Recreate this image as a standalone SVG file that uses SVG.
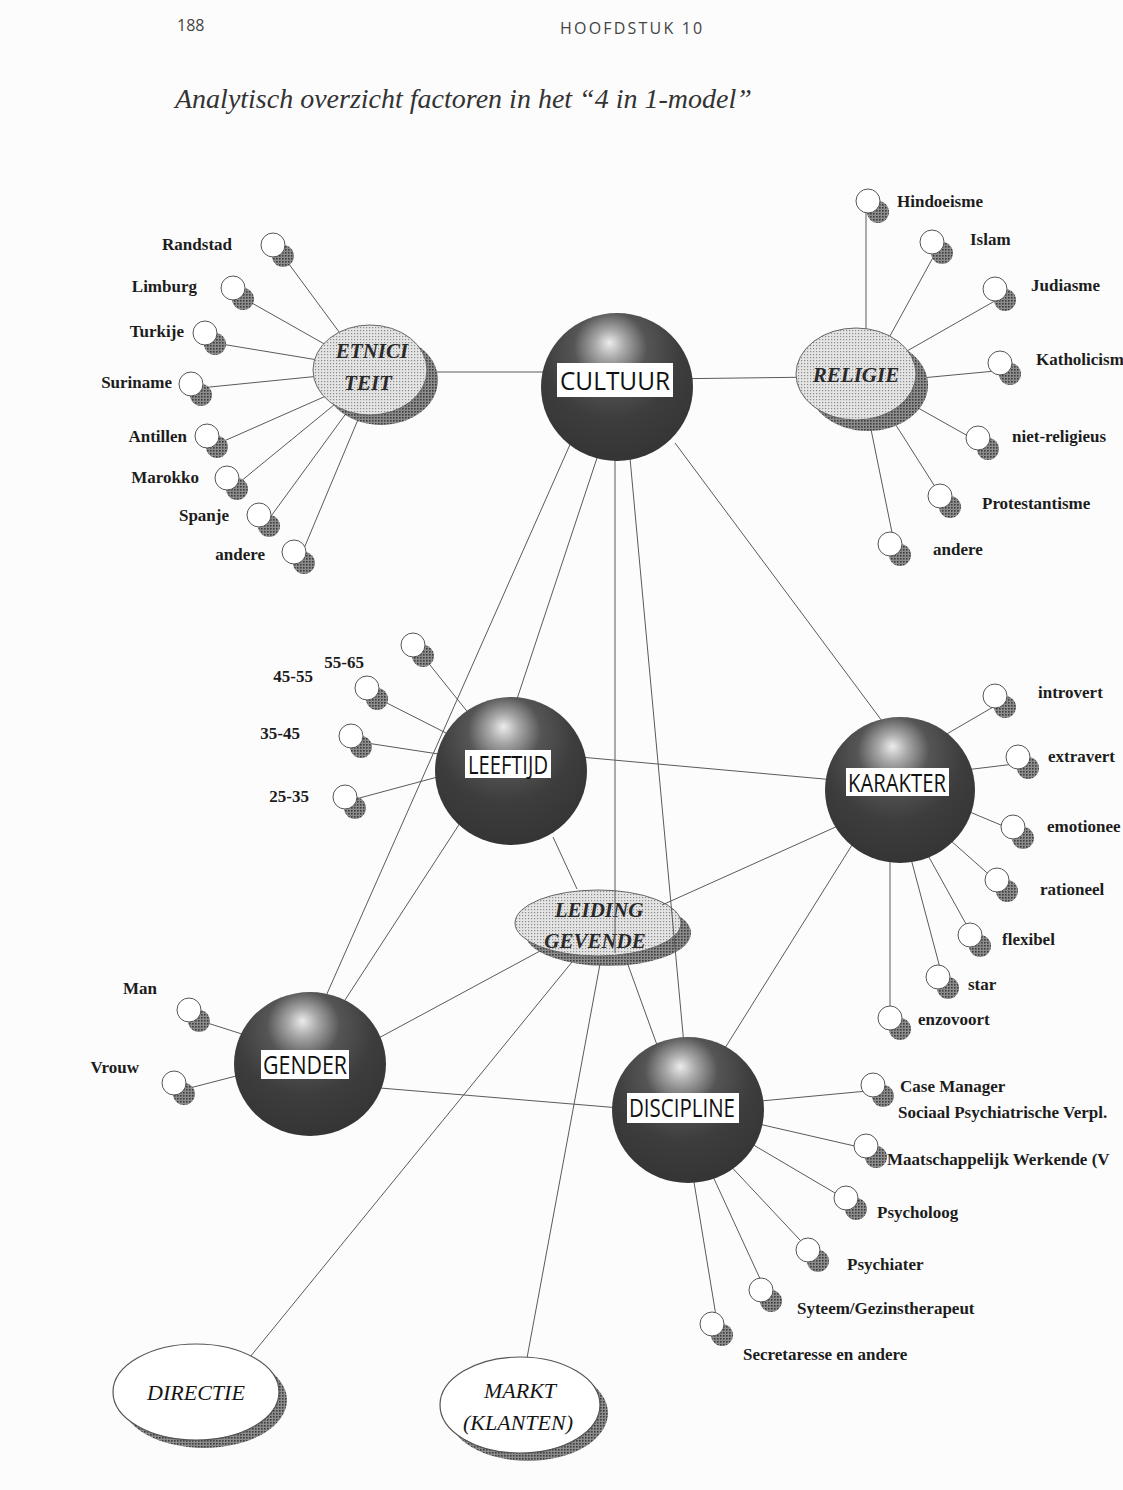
<svg xmlns="http://www.w3.org/2000/svg" width="1123" height="1490" viewBox="0 0 1123 1490">
<defs>
<radialGradient id="sph" cx="0.47" cy="0.3" r="0.75" fx="0.45" fy="0.2">
<stop offset="0" stop-color="#ececec"/>
<stop offset="0.13" stop-color="#a8a8a8"/>
<stop offset="0.32" stop-color="#555"/>
<stop offset="0.6" stop-color="#3d3d3d"/>
<stop offset="1" stop-color="#333"/>
</radialGradient>
<pattern id="dotL" width="3" height="3" patternUnits="userSpaceOnUse">
<rect width="3" height="3" fill="#e4e4e4"/>
<rect width="1.2" height="1.2" fill="#8a8a8a"/>
</pattern>
<pattern id="dotD" width="3" height="3" patternUnits="userSpaceOnUse">
<rect width="3" height="3" fill="#8c8c8c"/>
<rect width="1.6" height="1.6" fill="#3c3c3c"/>
</pattern>
</defs>
<style>
.ln{stroke:#5a5a5a;stroke-width:1;fill:none}
.sp{fill:url(#sph)}
.bx{fill:#fff}
.sl{font-family:"Open Sans","Liberation Sans",sans-serif;font-size:26px;fill:#111;text-anchor:middle}
.le{fill:url(#dotL);stroke:#666;stroke-width:1}
.lsh{fill:url(#dotD)}
.el{font-family:"Liberation Serif",serif;font-style:italic;font-weight:bold;font-size:21px;fill:#2a2a2a;text-anchor:middle}
.we{fill:#fff;stroke:#555;stroke-width:1.2}
.eo{font-family:"Liberation Serif",serif;font-style:italic;font-size:22px;fill:#151515;text-anchor:middle}
.ls{fill:url(#dotD)}
.lw{fill:#fff;stroke:#555;stroke-width:1}
.lf{font-family:"Liberation Serif",serif;font-weight:bold;font-size:17px;fill:#1c1c1c}
.e{text-anchor:end}
.hd{font-family:"Open Sans","Liberation Sans",sans-serif;font-size:16px;fill:#444}
.tt{font-family:"Liberation Serif",serif;font-style:italic;font-size:28px;fill:#333}
</style>
<rect width="1123" height="1490" fill="#fcfcfc"/>
<g id="header">
<text class="hd" x="177" y="31">188</text>
<text class="hd" x="560" y="34" letter-spacing="2.2">HOOFDSTUK 10</text>
<text class="tt" x="175" y="108">Analytisch overzicht factoren in het “4 in 1-model”</text>
</g>
<g id="leidinggevende">
<ellipse class="lsh" cx="608" cy="933" rx="83" ry="33"/>
<ellipse class="le" cx="598" cy="923" rx="83" ry="33"/>
<text class="el" x="599" y="917">LEIDING</text>
<text class="el" x="595" y="948">GEVENDE</text>
</g>
<g id="connectors">
<line class="ln" x1="283" y1="256" x2="345" y2="340"/>
<line class="ln" x1="243" y1="298" x2="335" y2="350"/>
<line class="ln" x1="215" y1="343" x2="330" y2="362"/>
<line class="ln" x1="200" y1="388" x2="330" y2="375"/>
<line class="ln" x1="215" y1="445" x2="335" y2="392"/>
<line class="ln" x1="235" y1="486" x2="340" y2="400"/>
<line class="ln" x1="266" y1="523" x2="350" y2="408"/>
<line class="ln" x1="300" y1="558" x2="362" y2="410"/>
<line class="ln" x1="420" y1="372" x2="570" y2="372"/>
<line class="ln" x1="660" y1="379" x2="820" y2="377"/>
<line class="ln" x1="866" y1="210" x2="866" y2="345"/>
<line class="ln" x1="936" y1="252" x2="885" y2="345"/>
<line class="ln" x1="1000" y1="298" x2="900" y2="355"/>
<line class="ln" x1="1006" y1="370" x2="900" y2="380"/>
<line class="ln" x1="984" y1="445" x2="895" y2="395"/>
<line class="ln" x1="946" y1="504" x2="880" y2="400"/>
<line class="ln" x1="896" y1="552" x2="865" y2="400"/>
<line class="ln" x1="572" y1="440" x2="322" y2="1005"/>
<line class="ln" x1="598" y1="455" x2="515" y2="705"/>
<line class="ln" x1="615" y1="458" x2="615" y2="953"/>
<line class="ln" x1="630" y1="458" x2="684" y2="1045"/>
<line class="ln" x1="675" y1="443" x2="885" y2="725"/>
<line class="ln" x1="580" y1="757" x2="835" y2="780"/>
<line class="ln" x1="553" y1="837" x2="577" y2="889"/>
<line class="ln" x1="462" y1="820" x2="345" y2="1000"/>
<line class="ln" x1="840" y1="825" x2="662" y2="905"/>
<line class="ln" x1="852" y1="845" x2="725" y2="1048"/>
<line class="ln" x1="375" y1="1040" x2="540" y2="951"/>
<line class="ln" x1="380" y1="1088" x2="620" y2="1108"/>
<line class="ln" x1="572" y1="962" x2="250" y2="1357"/>
<line class="ln" x1="600" y1="964" x2="527" y2="1358"/>
<line class="ln" x1="627" y1="962" x2="657" y2="1045"/>
<line class="ln" x1="198" y1="1020" x2="245" y2="1035"/>
<line class="ln" x1="182" y1="1090" x2="240" y2="1075"/>
<line class="ln" x1="422" y1="655" x2="470" y2="715"/>
<line class="ln" x1="375" y1="697" x2="450" y2="735"/>
<line class="ln" x1="360" y1="742" x2="445" y2="755"/>
<line class="ln" x1="352" y1="800" x2="445" y2="775"/>
<line class="ln" x1="1000" y1="703" x2="945" y2="735"/>
<line class="ln" x1="1023" y1="763" x2="965" y2="770"/>
<line class="ln" x1="1020" y1="833" x2="965" y2="810"/>
<line class="ln" x1="1003" y1="887" x2="950" y2="840"/>
<line class="ln" x1="976" y1="942" x2="925" y2="850"/>
<line class="ln" x1="944" y1="983" x2="910" y2="855"/>
<line class="ln" x1="890" y1="1015" x2="890" y2="855"/>
<line class="ln" x1="878" y1="1090" x2="750" y2="1102"/>
<line class="ln" x1="872" y1="1150" x2="750" y2="1122"/>
<line class="ln" x1="852" y1="1203" x2="745" y2="1140"/>
<line class="ln" x1="814" y1="1255" x2="725" y2="1160"/>
<line class="ln" x1="768" y1="1296" x2="710" y2="1170"/>
<line class="ln" x1="718" y1="1328" x2="692" y2="1170"/>
</g>
<g id="etniciteit">
<ellipse class="lsh" cx="381" cy="380" rx="57" ry="45"/>
<ellipse class="le" cx="370" cy="370" rx="57" ry="45"/>
<text class="el" x="372" y="358">ETNICI</text>
<text class="el" x="368" y="390">TEIT</text>
</g>
<g id="religie">
<ellipse class="lsh" cx="868" cy="385" rx="60" ry="46"/>
<ellipse class="le" cx="856" cy="374" rx="60" ry="46"/>
<text class="el" x="856" y="382" font-size="22">RELIGIE</text>
</g>
<g id="cultuur">
<ellipse class="sp" cx="617" cy="387" rx="76" ry="74"/>
<rect class="bx" x="557" y="363" width="116" height="34"/>
<text class="sl" x="615" y="390" font-size="28" textLength="110" lengthAdjust="spacingAndGlyphs">CULTUUR</text>
</g>
<g id="leeftijd">
<ellipse class="sp" cx="511" cy="771" rx="76" ry="74"/>
<rect class="bx" x="465" y="750" width="86" height="28"/>
<text class="sl" x="508" y="774" font-size="24" textLength="80" lengthAdjust="spacingAndGlyphs">LEEFTIJD</text>
</g>
<g id="karakter">
<ellipse class="sp" cx="900" cy="790" rx="75" ry="73"/>
<rect class="bx" x="846" y="768" width="103" height="28"/>
<text class="sl" x="897" y="792" font-size="24" textLength="98" lengthAdjust="spacingAndGlyphs">KARAKTER</text>
</g>
<g id="gender">
<ellipse class="sp" cx="310" cy="1064" rx="76" ry="72"/>
<rect class="bx" x="261" y="1050" width="88" height="29"/>
<text class="sl" x="305" y="1074" font-size="24" textLength="84" lengthAdjust="spacingAndGlyphs">GENDER</text>
</g>
<g id="discipline">
<ellipse class="sp" cx="688" cy="1110" rx="76" ry="73"/>
<rect class="bx" x="627" y="1093" width="112" height="30"/>
<text class="sl" x="682" y="1117" font-size="24" textLength="106" lengthAdjust="spacingAndGlyphs">DISCIPLINE</text>
</g>
<g id="directie">
<ellipse class="lsh" cx="204" cy="1400" rx="83" ry="48"/>
<ellipse class="we" cx="196" cy="1392" rx="83" ry="48"/>
<text class="eo" x="196" y="1400">DIRECTIE</text>
</g>
<g id="markt">
<ellipse class="lsh" cx="528" cy="1413" rx="80" ry="48"/>
<ellipse class="we" cx="520" cy="1405" rx="80" ry="48"/>
<text class="eo" x="520" y="1398">MARKT</text>
<text class="eo" x="518" y="1430">(KLANTEN)</text>
</g>
<g id="leaf-randstad"><circle class="ls" cx="283" cy="256" r="11"/><circle class="lw" cx="273" cy="245" r="12"/><text class="lf e" x="232" y="250">Randstad</text></g>
<g id="leaf-limburg"><circle class="ls" cx="243" cy="299" r="11"/><circle class="lw" cx="233" cy="288" r="12"/><text class="lf e" x="197" y="292">Limburg</text></g>
<g id="leaf-turkije"><circle class="ls" cx="215" cy="344" r="11"/><circle class="lw" cx="205" cy="333" r="12"/><text class="lf e" x="184" y="337">Turkije</text></g>
<g id="leaf-suriname"><circle class="ls" cx="201" cy="395" r="11"/><circle class="lw" cx="191" cy="384" r="12"/><text class="lf e" x="172" y="388">Suriname</text></g>
<g id="leaf-antillen"><circle class="ls" cx="217" cy="447" r="11"/><circle class="lw" cx="207" cy="436" r="12"/><text class="lf e" x="187" y="442">Antillen</text></g>
<g id="leaf-marokko"><circle class="ls" cx="237" cy="489" r="11"/><circle class="lw" cx="227" cy="478" r="12"/><text class="lf e" x="199" y="483">Marokko</text></g>
<g id="leaf-spanje"><circle class="ls" cx="269" cy="526" r="11"/><circle class="lw" cx="259" cy="515" r="12"/><text class="lf e" x="229" y="521">Spanje</text></g>
<g id="leaf-andere-e"><circle class="ls" cx="304" cy="563" r="11"/><circle class="lw" cx="294" cy="552" r="12"/><text class="lf e" x="265" y="560">andere</text></g>
<g id="leaf-hindoeisme"><circle class="ls" cx="878" cy="212" r="11"/><circle class="lw" cx="868" cy="201" r="12"/><text class="lf" x="897" y="207">Hindoeisme</text></g>
<g id="leaf-islam"><circle class="ls" cx="942" cy="253" r="11"/><circle class="lw" cx="932" cy="242" r="12"/><text class="lf" x="970" y="245">Islam</text></g>
<g id="leaf-judiasme"><circle class="ls" cx="1005" cy="300" r="11"/><circle class="lw" cx="995" cy="289" r="12"/><text class="lf" x="1031" y="291">Judiasme</text></g>
<g id="leaf-katholicisme"><circle class="ls" cx="1010" cy="374" r="11"/><circle class="lw" cx="1000" cy="363" r="12"/><text class="lf" x="1036" y="365">Katholicism</text></g>
<g id="leaf-nietreligieus"><circle class="ls" cx="988" cy="449" r="11"/><circle class="lw" cx="978" cy="438" r="12"/><text class="lf" x="1012" y="442">niet-religieus</text></g>
<g id="leaf-protestantisme"><circle class="ls" cx="950" cy="507" r="11"/><circle class="lw" cx="940" cy="496" r="12"/><text class="lf" x="982" y="509">Protestantisme</text></g>
<g id="leaf-andere-r"><circle class="ls" cx="900" cy="555" r="11"/><circle class="lw" cx="890" cy="544" r="12"/><text class="lf" x="933" y="555">andere</text></g>
<g id="leaf-5565"><circle class="ls" cx="423" cy="656" r="11"/><circle class="lw" cx="413" cy="645" r="12"/><text class="lf e" x="364" y="668">55-65</text></g>
<g id="leaf-4555"><circle class="ls" cx="377" cy="699" r="11"/><circle class="lw" cx="367" cy="688" r="12"/><text class="lf e" x="313" y="682">45-55</text></g>
<g id="leaf-3545"><circle class="ls" cx="361" cy="747" r="11"/><circle class="lw" cx="351" cy="736" r="12"/><text class="lf e" x="300" y="739">35-45</text></g>
<g id="leaf-2535"><circle class="ls" cx="355" cy="808" r="11"/><circle class="lw" cx="345" cy="797" r="12"/><text class="lf e" x="309" y="802">25-35</text></g>
<g id="leaf-introvert"><circle class="ls" cx="1005" cy="707" r="11"/><circle class="lw" cx="995" cy="696" r="12"/><text class="lf" x="1038" y="698">introvert</text></g>
<g id="leaf-extravert"><circle class="ls" cx="1028" cy="768" r="11"/><circle class="lw" cx="1018" cy="757" r="12"/><text class="lf" x="1048" y="762">extravert</text></g>
<g id="leaf-emotioneel"><circle class="ls" cx="1023" cy="838" r="11"/><circle class="lw" cx="1013" cy="827" r="12"/><text class="lf" x="1047" y="832">emotionee</text></g>
<g id="leaf-rationeel"><circle class="ls" cx="1007" cy="891" r="11"/><circle class="lw" cx="997" cy="880" r="12"/><text class="lf" x="1040" y="895">rationeel</text></g>
<g id="leaf-flexibel"><circle class="ls" cx="980" cy="946" r="11"/><circle class="lw" cx="970" cy="935" r="12"/><text class="lf" x="1002" y="945">flexibel</text></g>
<g id="leaf-star"><circle class="ls" cx="948" cy="988" r="11"/><circle class="lw" cx="938" cy="977" r="12"/><text class="lf" x="968" y="990">star</text></g>
<g id="leaf-enzovoort"><circle class="ls" cx="900" cy="1029" r="11"/><circle class="lw" cx="890" cy="1018" r="12"/><text class="lf" x="918" y="1025">enzovoort</text></g>
<g id="leaf-man"><circle class="ls" cx="199" cy="1021" r="11"/><circle class="lw" cx="189" cy="1010" r="12"/><text class="lf e" x="157" y="994">Man</text></g>
<g id="leaf-vrouw"><circle class="ls" cx="184" cy="1094" r="11"/><circle class="lw" cx="174" cy="1083" r="12"/><text class="lf e" x="139" y="1073">Vrouw</text></g>
<g id="leaf-casemanager"><circle class="ls" cx="883" cy="1096" r="11"/><circle class="lw" cx="873" cy="1085" r="12"/><text class="lf" x="900" y="1092">Case Manager</text><text class="lf" x="898" y="1118">Sociaal Psychiatrische Verpl.</text></g>
<g id="leaf-maatschappelijk"><circle class="ls" cx="876" cy="1157" r="11"/><circle class="lw" cx="866" cy="1146" r="12"/><text class="lf" x="887" y="1165">Maatschappelijk Werkende (V</text></g>
<g id="leaf-psycholoog"><circle class="ls" cx="856" cy="1209" r="11"/><circle class="lw" cx="846" cy="1198" r="12"/><text class="lf" x="877" y="1218">Psycholoog</text></g>
<g id="leaf-psychiater"><circle class="ls" cx="818" cy="1261" r="11"/><circle class="lw" cx="808" cy="1250" r="12"/><text class="lf" x="847" y="1270">Psychiater</text></g>
<g id="leaf-syteem"><circle class="ls" cx="771" cy="1301" r="11"/><circle class="lw" cx="761" cy="1290" r="12"/><text class="lf" x="797" y="1314">Syteem/Gezinstherapeut</text></g>
<g id="leaf-secretaresse"><circle class="ls" cx="722" cy="1335" r="11"/><circle class="lw" cx="712" cy="1324" r="12"/><text class="lf" x="743" y="1360">Secretaresse en andere</text></g>
</svg>
